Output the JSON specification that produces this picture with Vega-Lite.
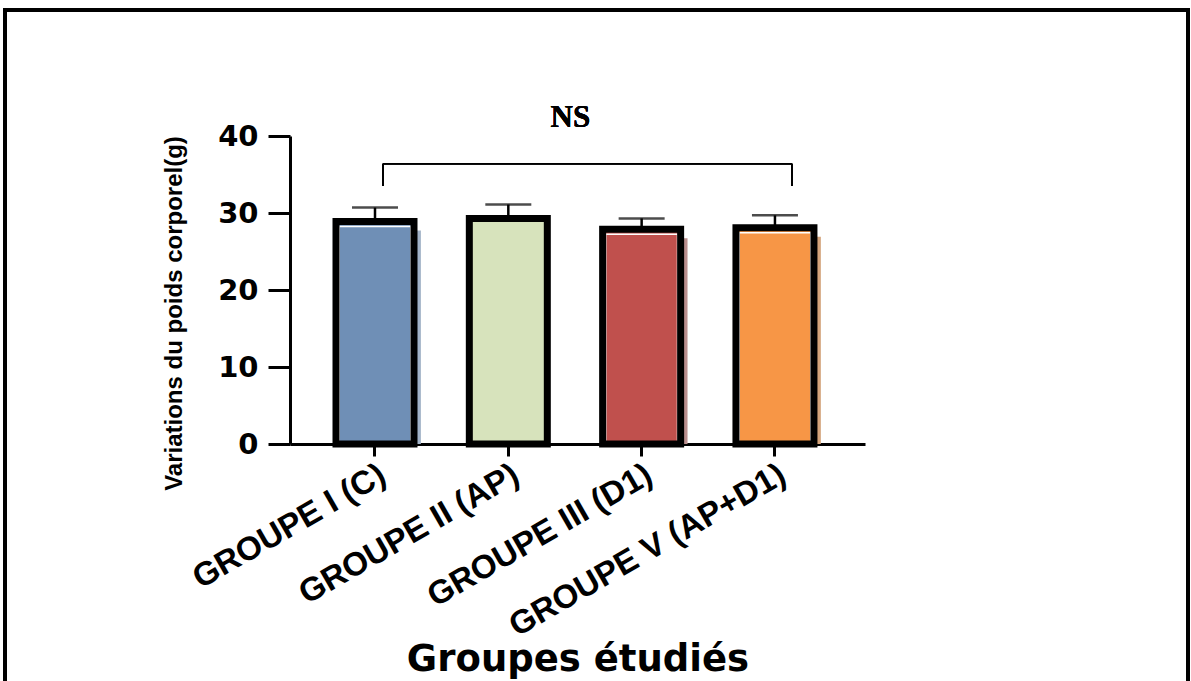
{
  "$schema": "https://vega.github.io/schema/vega-lite/v6.json",
  "width": 1183,
  "height": 700,
  "autosize": {"type": "none"},
  "padding": {"left": 5, "top": 10, "right": 3, "bottom": 0},
  "background": "white",
  "config": {"view": {"stroke": "black", "strokeWidth": 4}},
  "data": {"values": [
    {"group": "GROUPE I (C)", "mean": 28.9, "upper": 30.7},
    {"group": "GROUPE II (AP)", "mean": 29.3, "upper": 31.1},
    {"group": "GROUPE III (D1)", "mean": 27.9, "upper": 29.3},
    {"group": "GROUPE V (AP+D1)", "mean": 28.1, "upper": 29.7}
  ]},
  "layer": [
    {
      "transform": [{"filter": "datum.group != 'GROUPE II (AP)'"}],
      "mark": {"type": "bar", "xOffset": 3, "yOffset": 9, "width": {"band": 1.1}},
      "encoding": {
        "x": {"field": "group", "type": "nominal", "sort": null,
          "scale": {"domain": ["GROUPE I (C)", "GROUPE II (AP)", "GROUPE III (D1)", "GROUPE V (AP+D1)"], "range": [285, 860], "paddingInner": 0.415, "paddingOuter": 0.364, "align": 0.474},
          "axis": {
            "title": "Groupes étudiés",
            "offset": -266,
            "domainWidth": 3, "domainColor": "black",
            "tickWidth": 3, "tickColor": "black", "tickSize": 12,
            "labelAngle": -30,
            "labelFont": "Liberation Sans", "labelFontWeight": "bold", "labelFontSize": 33,
            "labelColor": "black", "labelPadding": 2, "labelLimit": 600, "labelOverlap": false,
            "titleFont": "DejaVu Sans", "titleFontWeight": "bold", "titleFontSize": 37,
            "titleColor": "black", "titleY": 226, "titleBaseline": "alphabetic",
            "grid": false
          }},
        "y": {"field": "mean", "type": "quantitative",
          "scale": {"domain": [0, 40], "range": [434, 126], "nice": false, "zero": false},
          "axis": {
            "title": "Variations du poids corporel(g)",
            "offset": -285,
            "values": [0, 10, 20, 30, 40],
            "domainWidth": 3, "domainColor": "black",
            "tickWidth": 3, "tickColor": "black", "tickSize": 22,
            "labelFont": "DejaVu Sans", "labelFontWeight": "bold", "labelFontSize": 29,
            "labelColor": "black", "labelPadding": 10,
            "titleFont": "Liberation Sans", "titleFontWeight": "bold", "titleFontSize": 24,
            "titleColor": "black", "titleX": -104, "titleY": 303,
            "grid": false
          }},
        "y2": {"datum": 0},
        "color": {"field": "group", "type": "nominal", "legend": null,
          "scale": {"domain": ["GROUPE I (C)", "GROUPE III (D1)", "GROUPE V (AP+D1)"], "range": ["#a3b3c8", "#b98f8e", "#d4a47c"]}}
      }
    },
    {
      "mark": {"type": "bar"},
      "encoding": {
        "x": {"field": "group", "type": "nominal", "sort": null},
        "y": {"field": "mean", "type": "quantitative"},
        "y2": {"datum": 0},
        "fill": {"field": "group", "type": "nominal", "legend": null, "sort": null,
          "scale": {"domain": ["GROUPE I (C)", "GROUPE II (AP)", "GROUPE III (D1)", "GROUPE V (AP+D1)"], "range": ["#6f8fb6", "#d7e3bc", "#c0504d", "#f79646"]}}
      }
    },
    {
      "transform": [{"filter": "datum.group != 'GROUPE II (AP)'"}],
      "mark": {"type": "bar", "filled": false, "stroke": "white", "strokeWidth": 1.5, "yOffset": 5, "width": {"band": 0.92}},
      "encoding": {
        "x": {"field": "group", "type": "nominal", "sort": null},
        "y": {"field": "mean", "type": "quantitative"},
        "y2": {"datum": 0}
      }
    },
    {
      "mark": {"type": "bar", "filled": false, "stroke": "black", "strokeWidth": 7},
      "encoding": {
        "x": {"field": "group", "type": "nominal", "sort": null},
        "y": {"field": "mean", "type": "quantitative"},
        "y2": {"datum": 0}
      }
    },
    {
      "mark": {"type": "rule", "color": "black", "strokeWidth": 2.5},
      "encoding": {
        "x": {"field": "group", "type": "nominal", "sort": null},
        "y": {"field": "mean", "type": "quantitative"},
        "y2": {"field": "upper"}
      }
    },
    {
      "mark": {"type": "tick", "orient": "horizontal", "color": "black", "size": 46, "thickness": 2.5},
      "encoding": {
        "x": {"field": "group", "type": "nominal", "sort": null},
        "y": {"field": "upper", "type": "quantitative"}
      }
    },
    {
      "mark": {"type": "rule", "color": "black", "strokeWidth": 1.5, "xOffset": 8, "x2Offset": 17},
      "encoding": {
        "x": {"datum": "GROUPE I (C)", "type": "nominal"},
        "x2": {"datum": "GROUPE V (AP+D1)"},
        "y": {"datum": 36.4, "type": "quantitative"}
      }
    },
    {
      "mark": {"type": "rule", "color": "black", "strokeWidth": 1.5, "xOffset": 8},
      "encoding": {
        "x": {"datum": "GROUPE I (C)", "type": "nominal"},
        "y": {"datum": 36.4, "type": "quantitative"},
        "y2": {"datum": 33.5}
      }
    },
    {
      "mark": {"type": "rule", "color": "black", "strokeWidth": 1.5, "xOffset": 17},
      "encoding": {
        "x": {"datum": "GROUPE V (AP+D1)", "type": "nominal"},
        "y": {"datum": 36.4, "type": "quantitative"},
        "y2": {"datum": 33.5}
      }
    },
    {
      "mark": {"type": "text", "font": "Liberation Serif", "fontWeight": "bold", "fontSize": 31, "color": "black", "baseline": "middle", "align": "center", "xOffset": 62},
      "encoding": {
        "x": {"datum": "GROUPE II (AP)", "type": "nominal"},
        "y": {"datum": 42.4, "type": "quantitative"},
        "text": {"value": "NS"}
      }
    }
  ]
}
